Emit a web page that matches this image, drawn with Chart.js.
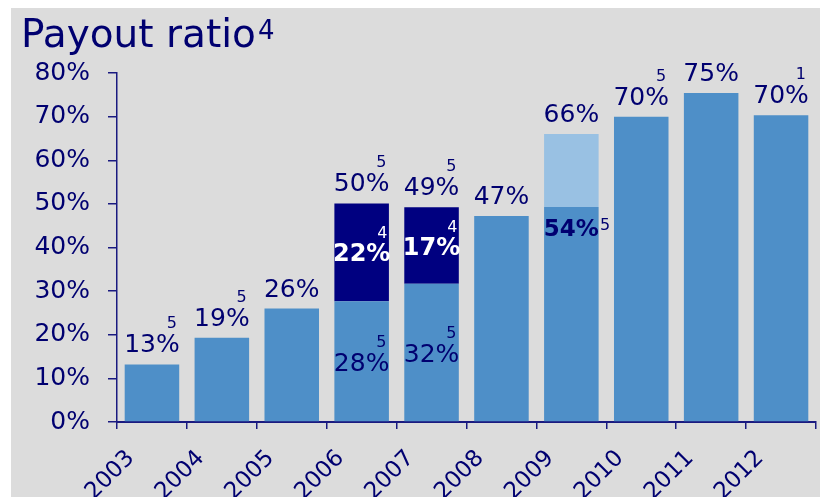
<!DOCTYPE html>
<html>
<head>
<meta charset="utf-8">
<style>
  html, body { margin: 0; padding: 0; background: #ffffff; }
  #wrap { width: 820px; height: 497px; position: relative; }
  canvas { display: block; }
</style>
<script src="https://cdn.jsdelivr.net/npm/chart.js@4"></script>
</head>
<body>
<div id="wrap"><canvas id="c" width="820" height="497"></canvas></div>
<script>
// ---- data ----
const years = ['2003','2004','2005','2006','2007','2008','2009','2010','2011','2012'];
const baseValues     = [13.2, 19.3, 26.0, 27.7, 31.7, 47.2, 49.3, 70.0, 75.4, 70.3];
const navyValues     = [0, 0, 0, 22.4, 17.5, 0, 0, 0, 0, 0];
const lightValues    = [0, 0, 0, 0, 0, 0, 16.7, 0, 0, 0];
const topLabels      = ['13%','19%','26%','50%','49%','47%','66%','70%','75%','70%'];
const topNotes       = ['5','5','','5','5','','','5','','1'];
const navyLabels     = ['','','','22%','17%','','','','',''];
const navyNotes      = ['','','','4','4','','','','',''];
const baseLabels     = ['','','','28%','32%','','54%','','',''];
const baseNotes      = ['','','','5','5','','5','','',''];
const yTicks         = [0,10,20,30,40,50,60,70,80];

const NAVY_TEXT = '#000070';
const FONT = '"DejaVu Sans", sans-serif';

const bgPlugin = {
  id: 'bg',
  beforeDraw(chart) {
    const ctx = chart.ctx;
    ctx.save();
    ctx.fillStyle = '#ffffff';
    ctx.fillRect(0, 0, chart.width, chart.height);
    ctx.fillStyle = '#dcdcdc';
    ctx.fillRect(11, 8, chart.width - 11, chart.height - 8);
    // title
    ctx.fillStyle = NAVY_TEXT;
    ctx.textBaseline = 'alphabetic';
    ctx.textAlign = 'left';
    ctx.font = '39px ' + FONT;
    const t = 'Payout ratio';
    ctx.fillText(t, 21, 47);
    const w = ctx.measureText(t).width;
    ctx.font = '26px ' + FONT;
    ctx.fillText('4', 21 + w + 2, 39);
    ctx.restore();
  }
};

function drawLabel(ctx, text, note, cx, baseline, opts) {
  ctx.font = opts.font;
  ctx.fillStyle = opts.color;
  ctx.textAlign = 'center';
  ctx.textBaseline = 'alphabetic';
  ctx.fillText(text, cx, baseline);
  if (!note) return;
  const w = ctx.measureText(text).width;
  const right = cx + w / 2;
  ctx.font = '16px ' + FONT;
  if (opts.noteSide === 'right') {
    ctx.textAlign = 'left';
    ctx.fillText(note, right + 1, baseline - 6);
  } else {
    ctx.textAlign = 'center';
    ctx.fillText(note, right - 8, baseline - opts.cap - 6);
  }
}

const labelPlugin = {
  id: 'valueLabels',
  afterDatasetsDraw(chart) {
    const ctx = chart.ctx;
    const xs = chart.scales.x, ys = chart.scales.y;
    ctx.save();
    years.forEach((yr, i) => {
      const cx = xs.getPixelForValue(i);
      const total = baseValues[i] + navyValues[i] + lightValues[i];
      const topPx = ys.getPixelForValue(total);
      drawLabel(ctx, topLabels[i], topNotes[i], cx, topPx - 12,
        { font: '25px ' + FONT, color: NAVY_TEXT, cap: 18 });
      if (navyLabels[i]) {
        const a = ys.getPixelForValue(baseValues[i]);
        const b = ys.getPixelForValue(baseValues[i] + navyValues[i]);
        drawLabel(ctx, navyLabels[i], navyNotes[i], cx, (a + b) / 2 + 9,
          { font: 'bold 24px ' + FONT, color: '#ffffff', cap: 17 });
      }
      if (baseLabels[i]) {
        const a = ys.getPixelForValue(0);
        const b = ys.getPixelForValue(baseValues[i]);
        if (lightValues[i]) {
          drawLabel(ctx, baseLabels[i], baseNotes[i], cx, b + 29,
            { font: 'bold 23px ' + FONT, color: NAVY_TEXT, cap: 16, noteSide: 'right' });
        } else {
          drawLabel(ctx, baseLabels[i], baseNotes[i], cx, (a + b) / 2 + 9,
            { font: '25px ' + FONT, color: NAVY_TEXT, cap: 18 });
        }
      }
    });
    ctx.restore();
  }
};

const barCommon = { categoryPercentage: 1.0, barPercentage: 0.78, borderWidth: 0 };

new Chart(document.getElementById('c'), {
  type: 'bar',
  data: {
    labels: years,
    datasets: [
      Object.assign({ label: 'base', data: baseValues, backgroundColor: '#4e8fc8' }, barCommon),
      Object.assign({ label: 'navy', data: navyValues, backgroundColor: '#000080' }, barCommon),
      Object.assign({ label: 'light', data: lightValues, backgroundColor: '#99c1e3' }, barCommon)
    ]
  },
  options: {
    responsive: false,
    animation: false,
    devicePixelRatio: 1,
    layout: { padding: { left: 0, right: 4, top: 73, bottom: 0 } },
    plugins: { legend: { display: false }, title: { display: false }, tooltip: { enabled: false } },
    scales: {
      x: {
        stacked: true,
        grid: { offset: true, drawOnChartArea: false, tickLength: 7, color: '#1a1a80', lineWidth: 1.5 },
        border: { color: '#1a1a80', width: 2 },
        ticks: {
          color: NAVY_TEXT, font: { family: FONT, size: 23 },
          maxRotation: 45, minRotation: 45, labelOffset: -21, padding: 16
        },
        afterFit(s) { s.height = 75; s.paddingLeft = 0; s.paddingRight = 0; }
      },
      y: {
        stacked: true,
        min: 0, max: 80,
        afterBuildTicks(s) { s.ticks = yTicks.map(v => ({ value: v })); },
        grid: { drawOnChartArea: false, tickLength: 9, color: '#1a1a80', lineWidth: 1.5 },
        border: { color: '#1a1a80', width: 1.5 },
        ticks: {
          color: NAVY_TEXT, font: { family: FONT, size: 25 }, padding: 18,
          callback: v => v + '%'
        },
        afterFit(s) { s.width = 117; s.paddingTop = 0; s.paddingBottom = 0; }
      }
    }
  },
  plugins: [bgPlugin, labelPlugin]
});
</script>
</body>
</html>
